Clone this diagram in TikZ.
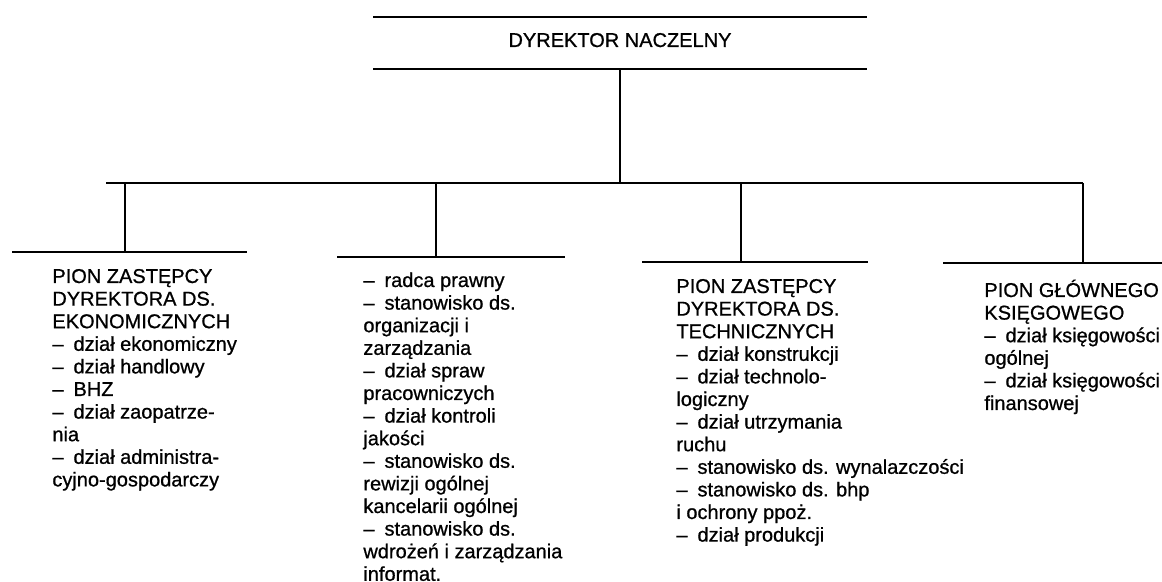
\documentclass[tikz,border=0pt]{standalone}
\usepackage{fontspec}
\setmainfont{Liberation Sans}[FakeBold=0.8]
\usetikzlibrary{positioning}
\tikzset{
  rule/.style  ={line width=1pt},
  head/.style  ={anchor=base,inner sep=0pt,font=\fontsize{10pt}{12pt}\selectfont},
  unit/.style  ={anchor=base west,inner sep=0pt,font=\fontsize{10pt}{11.3pt}\selectfont},
}
\newcommand{\dsh}{\textendash\hspace{0.5em}}
\newcommand{\col}[1]{\begin{tabular}[t]{@{}l@{}}#1\end{tabular}}

\begin{document}
\begin{tikzpicture}[x=0.5pt,y=-0.5pt]
  \useasboundingbox (0,0) rectangle (1162,582);
  % director
  \node[head] (dn) at (620,47) {DYREKTOR NACZELNY};
  \coordinate (topL) at (373,17);  \coordinate (topR) at (867,17);
  \coordinate (botL) at (373,69);  \coordinate (botR) at (867,69);
  \coordinate (hub) at (620,69);   \coordinate (hubB) at (620,183);
  \draw[rule] (topL)--(topR);
  \draw[rule] (botL)--(botR);
  \draw[rule] (hub)--(hubB);
  % branches
  \foreach \name/\x/\y/\l/\r in {eko/125/252/12/247,prz/436/257/337/565,
                                  tech/741/262/642/868,ksg/1083/263/943/1162}{
     \coordinate (\name-top) at (\x,183);
     \coordinate (\name-mid) at (\x,\y);
     \coordinate (\name-L) at (\l,\y);
     \coordinate (\name-R) at (\r,\y);
     \draw[rule] (\name-top)--(\name-mid);
     \draw[rule] (\name-L)--(\name-R);
  }
  \coordinate (barL) at (106,183);
  \draw[rule] (barL)--(ksg-top);
  % texts
  \node[unit] (ekoT) at (52,283) {\col{PION ZASTĘPCY\\ DYREKTORA DS.\\ EKONOMICZNYCH\\
     \dsh dział ekonomiczny\\ \dsh dział handlowy\\ \dsh BHZ\\ \dsh dział zaopatrze-\\ nia\\
     \dsh dział administra-\\ cyjno-gospodarczy}};
  \node[unit] (przT) at (363,287) {\col{\dsh radca prawny\\ \dsh stanowisko ds.\\ organizacji i\\
     zarządzania\\ \dsh dział spraw\\ pracowniczych\\ \dsh dział kontroli\\ jakości\\
     \dsh stanowisko ds.\\ rewizji ogólnej\\ kancelarii ogólnej\\ \dsh stanowisko ds.\\
     wdrożeń i zarządzania\\ informat.}};
  \node[unit] (techT) at (676,293) {\col{PION ZASTĘPCY\\ DYREKTORA DS.\\ TECHNICZNYCH\\
     \dsh dział konstrukcji\\ \dsh dział technolo-\\ logiczny\\ \dsh dział utrzymania\\ ruchu\\
     \dsh stanowisko ds. wynalazczości\\ \dsh stanowisko ds. bhp\\ i ochrony ppoż.\\
     \dsh dział produkcji}};
  \node[unit] (ksgT) at (984,297) {\col{PION GŁÓWNEGO\\ KSIĘGOWEGO\\ \dsh dział księgowości\\
     ogólnej\\ \dsh dział księgowości\\ finansowej}};
\end{tikzpicture}
\end{document}
